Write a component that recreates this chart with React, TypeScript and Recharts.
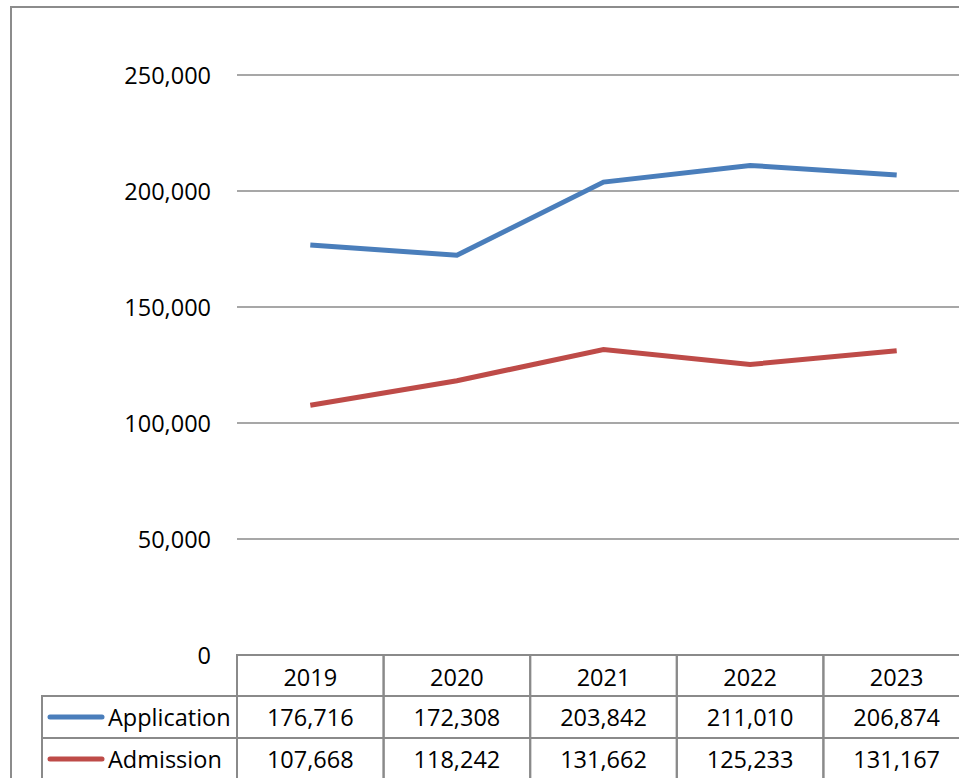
import { CartesianGrid, Line, LineChart, XAxis, YAxis } from "recharts";

const years = ["2019", "2020", "2021", "2022", "2023"];
const application = [176716, 172308, 203842, 211010, 206874];
const admission = [107668, 118242, 131662, 125233, 131167];
const yTicks = [0, 50000, 100000, 150000, 200000, 250000];

const seriesNames = ["Application", "Admission"];
const seriesColors = ["#4a7ebb", "#be4b48"];

const data = years.map((year, i) => ({
  year,
  application: application[i],
  admission: admission[i],
}));

const FONT = "'Open Sans', sans-serif";
const GRID = "#8a8a8a";
const COL_W = 146.6;
const ROW_H = [41, 42, 42];

const fmt = (v: number) => v.toLocaleString("en-US");

const YTick = (props: any) => {
  const { y, payload } = props;
  return (
    <text
      x={211}
      y={y}
      textAnchor="end"
      dominantBaseline="central"
      fontFamily={FONT}
      fontSize={23.5}
      fill="#000"
    >
      {fmt(payload.value)}
    </text>
  );
};

const TableTick = (props: any) => {
  const { x, y, payload, index } = props;
  const i = index ?? payload.index;
  const left = x - COL_W / 2;
  const r1 = y + ROW_H[0];
  const r2 = r1 + ROW_H[1];
  const r3 = r2 + ROW_H[2];
  const rowVals = [application[i], admission[i]];
  return (
    <g fontFamily={FONT} fontSize={23.5} fill="#000">
      <rect x={left} y={y} width={COL_W} height={r3 - y} fill="none" stroke={GRID} strokeWidth={2} />
      <line x1={left} x2={left + COL_W} y1={r1} y2={r1} stroke={GRID} strokeWidth={2} />
      <line x1={left} x2={left + COL_W} y1={r2} y2={r2} stroke={GRID} strokeWidth={2} />
      <text x={x} y={y + ROW_H[0] / 2 + 1} textAnchor="middle" dominantBaseline="central">
        {payload.value}
      </text>
      {rowVals.map((v, k) => (
        <text
          key={k}
          x={x}
          y={(k === 0 ? r1 : r2) + ROW_H[k + 1] / 2}
          textAnchor="middle"
          dominantBaseline="central"
        >
          {fmt(v)}
        </text>
      ))}
      {i === 0 && (
        <g>
          <rect x={42} y={r1} width={left - 42} height={r3 - r1} fill="none" stroke={GRID} strokeWidth={2} />
          <line x1={42} x2={left} y1={r2} y2={r2} stroke={GRID} strokeWidth={2} />
          {seriesNames.map((name, k) => {
            const cy = (k === 0 ? r1 : r2) + ROW_H[k + 1] / 2;
            return (
              <g key={name}>
                <line
                  x1={50}
                  x2={102}
                  y1={cy}
                  y2={cy}
                  stroke={seriesColors[k]}
                  strokeWidth={5}
                  strokeLinecap="round"
                />
                <text x={108} y={cy} dominantBaseline="central">
                  {name}
                </text>
              </g>
            );
          })}
        </g>
      )}
    </g>
  );
};

export default function App() {
  return (
    <div
      style={{
        position: "absolute",
        left: 0,
        top: 0,
        width: 959,
        height: 778,
        overflow: "hidden",
        background: "#fff",
      }}
    >
      <div
        style={{
          position: "absolute",
          left: 10,
          top: 6,
          width: 1000,
          height: 820,
          border: "2px solid #8c8c8c",
        }}
      />
      <div style={{ position: "absolute", left: 0, top: 0 }}>
        <LineChart
          width={1000}
          height={800}
          data={data}
          margin={{ top: 75, right: 30, bottom: 0, left: 0 }}
        >
          <CartesianGrid vertical={false} stroke={GRID} strokeWidth={1.3} />
          <XAxis
            dataKey="year"
            height={145}
            axisLine={false}
            tickLine={false}
            tickSize={0}
            tickMargin={0}
            interval={0}
            padding={{ left: COL_W / 2, right: COL_W / 2 }}
            tick={<TableTick />}
          />
          <YAxis
            width={237}
            domain={[0, 250000]}
            ticks={yTicks}
            axisLine={false}
            tickLine={false}
            tick={<YTick />}
          />
          <Line
            dataKey="application"
            name="Application"
            stroke={seriesColors[0]}
            strokeWidth={5}
            dot={false}
            isAnimationActive={false}
          />
          <Line
            dataKey="admission"
            name="Admission"
            stroke={seriesColors[1]}
            strokeWidth={5}
            dot={false}
            isAnimationActive={false}
          />
        </LineChart>
      </div>
    </div>
  );
}
